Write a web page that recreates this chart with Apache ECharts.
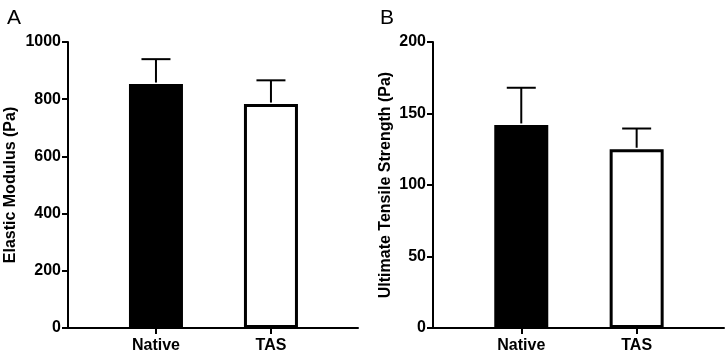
<!DOCTYPE html>
<html>
<head>
<meta charset="utf-8">
<script src="https://cdn.jsdelivr.net/npm/echarts@6/dist/echarts.min.js"></script>
<style>html,body{margin:0;padding:0;background:#fff}#c{width:726px;height:354px}</style>
</head>
<body>
<div id="c"></div>
<script>
var categories = ['Native', 'TAS'];
var modulusMean = [853, 783];
var modulusSD = [87, 83];
var strengthMean = [142, 125];
var strengthSD = [26, 14.5];
var modulusTicks = [0, 200, 400, 600, 800, 1000];
var strengthTicks = [0, 50, 100, 150, 200];

var FONT = 'Liberation Sans, Arial, sans-serif';
var chart = echarts.init(document.getElementById('c'));

function barData(means) {
  return means.map(function (v, i) {
    return {
      value: [i + 1, v],
      itemStyle: { color: i === 0 ? '#000' : '#fff', borderColor: '#000', borderWidth: 3 }
    };
  });
}
function errData(means, sds) {
  return means.map(function (v, i) { return [i + 1, v, v + sds[i]]; });
}
function renderErr(params, api) {
  var x = api.value(0);
  var p0 = api.coord([x, api.value(1)]);
  var p1 = api.coord([x, api.value(2)]);
  var half = 14.5;
  var style = { stroke: '#000', lineWidth: 2 };
  return {
    type: 'group',
    children: [
      { type: 'line', shape: { x1: p0[0], y1: p0[1] - 1.5, x2: p1[0], y2: p1[1] }, style: style },
      { type: 'line', shape: { x1: p1[0] - half, y1: p1[1], x2: p1[0] + half, y2: p1[1] }, style: style }
    ]
  };
}
function xAxisCfg(gi) {
  return {
    type: 'value', gridIndex: gi, min: 0.235, max: 2.757,
    splitLine: { show: false },
    axisLine: { show: true, onZero: false, lineStyle: { color: '#000', width: 2 } },
    axisTick: { show: true, length: 6, lineStyle: { color: '#000', width: 2 }, customValues: [1, 2] },
    axisLabel: {
      customValues: [1, 2], margin: 10,
      formatter: function (v) { return categories[Math.round(v) - 1] || ''; },
      color: '#000', fontWeight: 'bold', fontSize: 16, fontFamily: FONT
    }
  };
}
function yAxisCfg(gi, interval, name, gap, ticks) {
  return {
    type: 'value', gridIndex: gi, min: ticks[0], max: ticks[ticks.length - 1], interval: interval,
    name: name, nameLocation: 'middle', nameGap: gap,
    nameTextStyle: { color: '#000', fontWeight: 'bold', fontSize: 16, fontFamily: FONT },
    splitLine: { show: false },
    axisLine: { show: true, lineStyle: { color: '#000', width: 2 } },
    axisTick: { show: true, length: 6, lineStyle: { color: '#000', width: 2 } },
    axisLabel: {
      margin: 7, color: '#000', fontWeight: 'bold', fontSize: 16, fontFamily: FONT,
      formatter: function (v) { return String(v); }
    }
  };
}

chart.setOption({
  animation: false,
  backgroundColor: '#fff',
  title: [
    { text: 'A', left: 2, top: 3, textStyle: { fontSize: 21, fontWeight: 'normal', color: '#000', fontFamily: FONT } },
    { text: 'B', left: 375, top: 3, textStyle: { fontSize: 21, fontWeight: 'normal', color: '#000', fontFamily: FONT } }
  ],
  grid: [
    { left: 68, right: 368, top: 42, bottom: 26 },
    { left: 433, right: 2, top: 42, bottom: 26 }
  ],
  xAxis: [xAxisCfg(0), xAxisCfg(1)],
  yAxis: [
    yAxisCfg(0, 200, 'Elastic Modulus (Pa)', 49, modulusTicks),
    yAxisCfg(1, 50, 'Ultimate Tensile Strength (Pa)', 39, strengthTicks)
  ],
  series: [
    { type: 'bar', xAxisIndex: 0, yAxisIndex: 0, barWidth: 54, data: barData(modulusMean), z: 2 },
    { type: 'custom', xAxisIndex: 0, yAxisIndex: 0, renderItem: renderErr, data: errData(modulusMean, modulusSD), z: 3 },
    { type: 'bar', xAxisIndex: 1, yAxisIndex: 1, barWidth: 54, data: barData(strengthMean), z: 2 },
    { type: 'custom', xAxisIndex: 1, yAxisIndex: 1, renderItem: renderErr, data: errData(strengthMean, strengthSD), z: 3 }
  ]
});
</script>
</body>
</html>
